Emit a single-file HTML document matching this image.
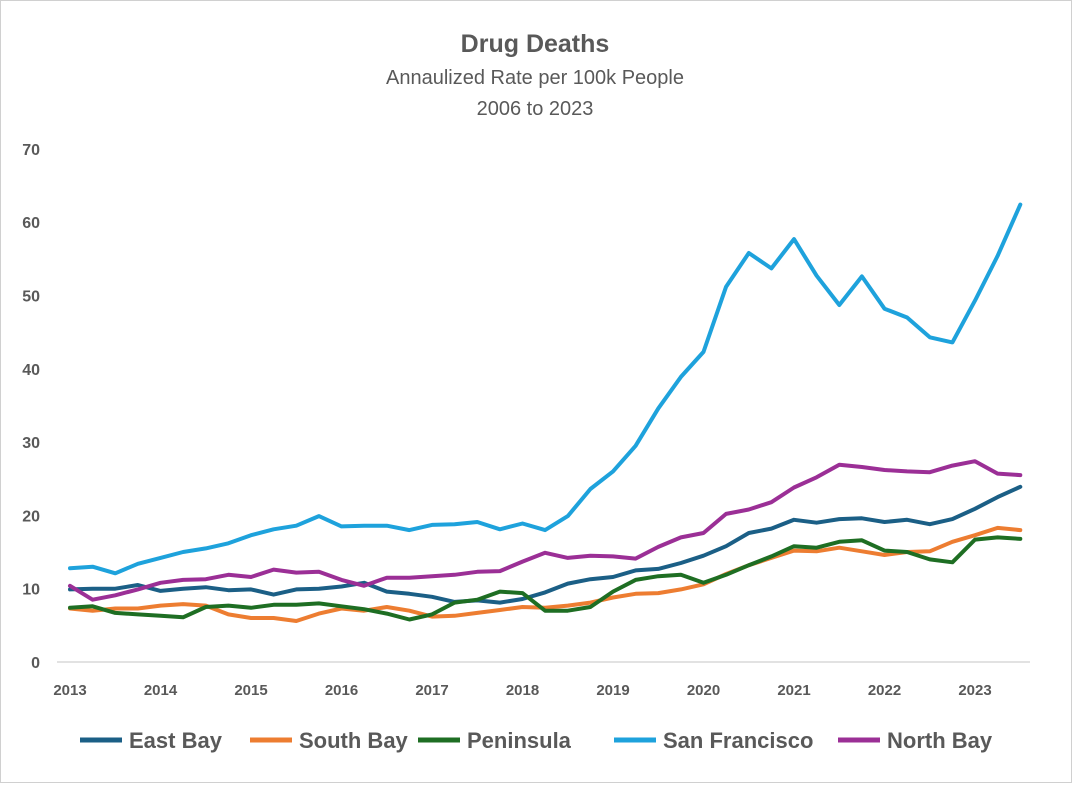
<!DOCTYPE html>
<html><head><meta charset="utf-8"><style>
body{margin:0;background:#fff;font-family:"Liberation Sans",sans-serif}
#c{position:relative;width:1072px;height:783px}
</style></head><body>
<div id="c">
<svg id="s" width="1072" height="783">
<rect x="0.5" y="0.5" width="1071" height="782" fill="#fff" stroke="#d0d0d0"/>
<text x="535" y="52" text-anchor="middle" font-size="25" font-weight="bold" fill="#595959">Drug Deaths</text>
<text x="535" y="84" text-anchor="middle" font-size="20" fill="#595959">Annaulized Rate per 100k People</text>
<text x="535" y="115" text-anchor="middle" font-size="20" fill="#595959">2006 to 2023</text>
<line x1="57" y1="662" x2="1030" y2="662" stroke="#d9d9d9" stroke-width="1.5"/>
<g id="yt"></g><g id="xt"></g><g id="lines"></g><g id="leg"></g>
</svg>
</div>
<script>
const yTicks=[0,10,20,30,40,50,60,70];
const xTicks=[2013,2014,2015,2016,2017,2018,2019,2020,2021,2022,2023];
const seriesNames=["East Bay","South Bay","Peninsula","San Francisco","North Bay"];
const seriesColors=["#1b5f86","#ed7d31","#1e6e23","#1ea2dc","#9b2f96"];
const eastBay=[9.9,10,10,10.5,9.7,10,10.2,9.8,9.9,9.2,9.9,10,10.3,10.8,9.6,9.3,8.9,8.2,8.4,8.1,8.6,9.5,10.7,11.3,11.6,12.5,12.7,13.5,14.5,15.8,17.6,18.2,19.4,19,19.5,19.6,19.1,19.4,18.8,19.5,20.9,22.5,23.9];
const southBay=[7.3,7,7.3,7.3,7.7,7.9,7.7,6.5,6,6,5.6,6.6,7.3,7,7.5,7,6.2,6.3,6.7,7.1,7.5,7.4,7.7,8.1,8.8,9.3,9.4,9.9,10.6,12,13.2,14.2,15.2,15.1,15.6,15.1,14.6,15,15.1,16.4,17.3,18.3,18];
const peninsula=[7.4,7.6,6.7,6.5,6.3,6.1,7.5,7.7,7.4,7.8,7.8,8,7.6,7.2,6.6,5.8,6.5,8.1,8.5,9.6,9.4,7,7,7.5,9.6,11.2,11.7,11.9,10.8,11.9,13.2,14.4,15.8,15.6,16.4,16.6,15.2,15,14,13.6,16.7,17,16.8];
const sanFrancisco=[12.8,13,12.1,13.4,14.2,15,15.5,16.2,17.3,18.1,18.6,19.9,18.5,18.6,18.6,18,18.7,18.8,19.1,18.1,18.9,18,19.9,23.6,26,29.5,34.6,38.9,42.3,51.2,55.8,53.7,57.7,52.7,48.7,52.6,48.2,47,44.3,43.6,49.3,55.4,62.4];
const northBay=[10.4,8.5,9.1,9.9,10.8,11.2,11.3,11.9,11.6,12.6,12.2,12.3,11.2,10.4,11.5,11.5,11.7,11.9,12.3,12.4,13.7,14.9,14.2,14.5,14.4,14.1,15.7,17,17.6,20.2,20.8,21.8,23.8,25.2,26.9,26.6,26.2,26,25.9,26.8,27.4,25.7,25.5];
const NS="http://www.w3.org/2000/svg";
const x=t=>70+(t-2013)*90.5;
const y=v=>662-v*7.33;
function mk(tag,attrs,parent){const e=document.createElementNS(NS,tag);for(const k in attrs)e.setAttribute(k,attrs[k]);document.getElementById(parent).appendChild(e);return e;}
yTicks.forEach(v=>{const t=mk('text',{x:40,y:y(v)+6,'text-anchor':'end','font-size':16,'font-weight':'bold',fill:'#595959'},'yt');t.textContent=v;

});
xTicks.forEach(v=>{const t=mk('text',{x:x(v),y:695,'text-anchor':'middle','font-size':15,'font-weight':'bold',fill:'#595959'},'xt');t.textContent=v;

});
const all=[eastBay,southBay,peninsula,sanFrancisco,northBay];
all.forEach((d,i)=>{const p=d.map((v,j)=>x(2013+j*0.25).toFixed(1)+','+y(v).toFixed(1)).join(' ');
const l=mk('polyline',{points:p,fill:'none',stroke:seriesColors[i],'stroke-width':4,'stroke-linejoin':'round','stroke-linecap':'round'},'lines');

});
const legX=[80,250,418,614,838];
seriesNames.forEach((n,i)=>{const ln=mk('line',{x1:legX[i],y1:740,x2:legX[i]+42,y2:740,stroke:seriesColors[i],'stroke-width':5},'leg');


const t=mk('text',{x:legX[i]+49,y:748,'font-size':22,'font-weight':'bold',fill:'#595959'},'leg');t.textContent=n;

});
</script>
</body></html>
